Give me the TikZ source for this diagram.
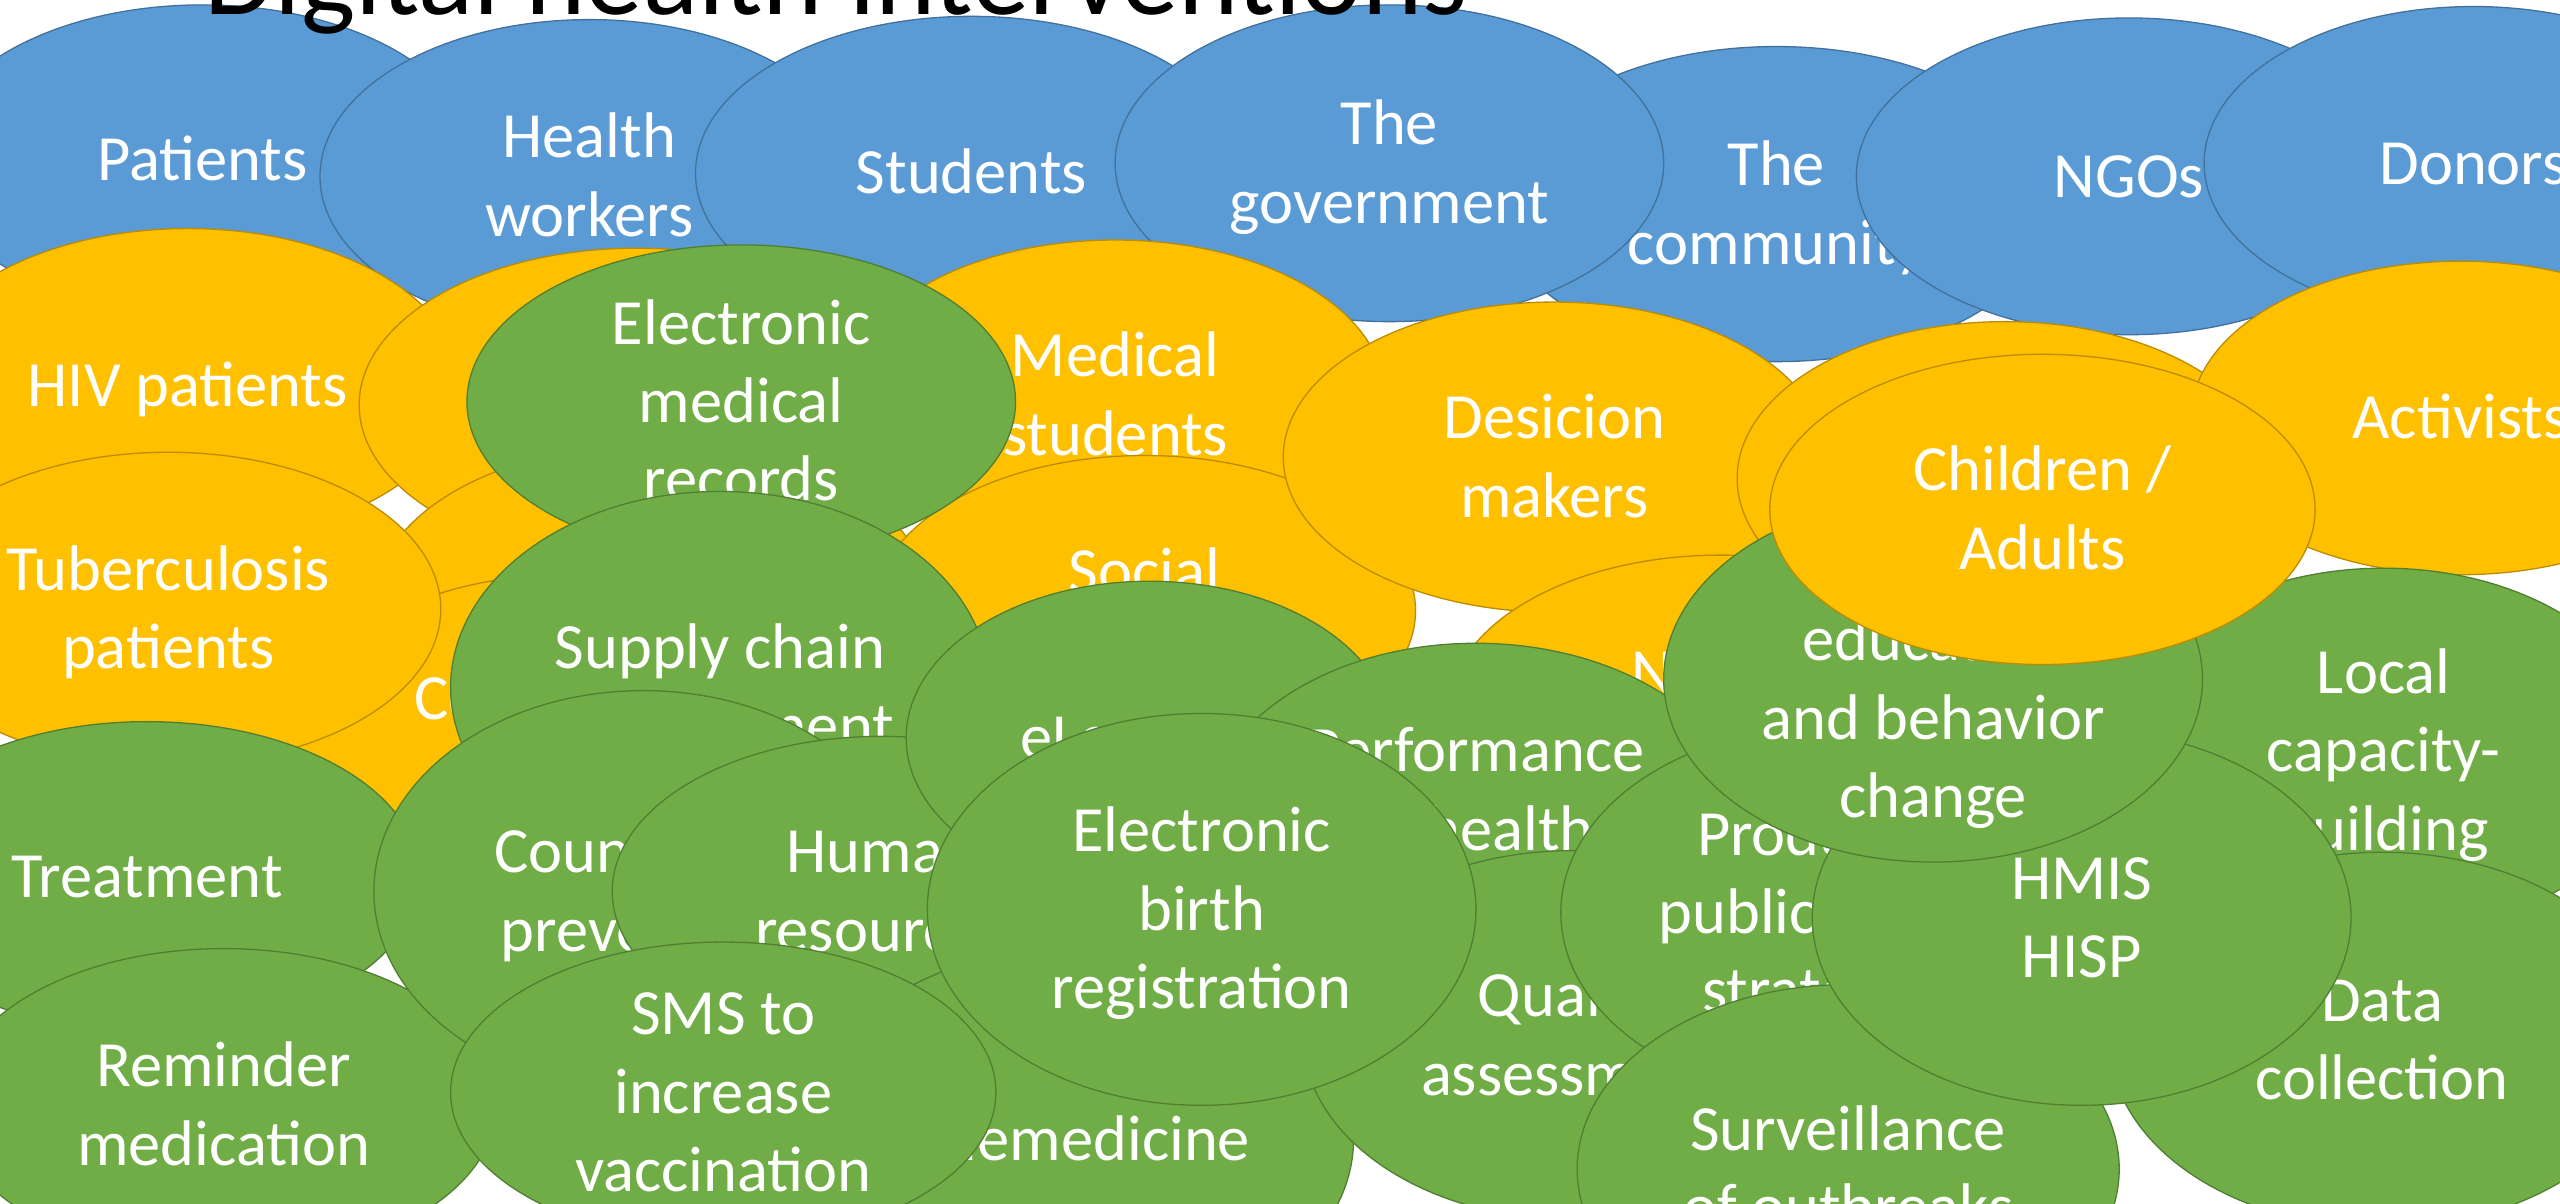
\documentclass[tikz,border=0pt]{standalone}
\usepackage{fontspec}
\setmainfont{Carlito}
\usetikzlibrary{shapes.geometric}
\definecolor{bfill}{HTML}{5B9BD5}
\definecolor{bline}{HTML}{41719C}
\definecolor{ofill}{HTML}{FFC000}
\definecolor{oline}{HTML}{BC8C00}
\definecolor{gfill}{HTML}{70AD47}
\definecolor{gline}{HTML}{507E32}
\tikzset{
 bub/.style={ellipse, inner sep=0pt, line width=0.8pt},
 bluebub/.style={bub, fill=bfill, draw=bline},
 orangebub/.style={bub, fill=ofill, draw=oline},
 greenbub/.style={bub, fill=gfill, draw=gline},
 lbl/.style={text=white, align=center, inner sep=0pt,
   font=\fontsize{39.5}{48}\selectfont},
 titletext/.style={anchor=base, inner sep=0pt, text=black},
}
\newcommand\Lstrut{\rule[-10pt]{0pt}{45.4pt}}
\newcommand\Bub[7]{%
 \node[#1, minimum width=#5pt, minimum height=#6pt] (#2) at (#3,#4) {};
 \node[lbl] (#2-t) at (#2.center) {\Lstrut#7\Lstrut};}
\newcommand\Blank[6]{%
 \node[#1, minimum width=#5pt, minimum height=#6pt] (#2) at (#3,#4) {};}
\begin{document}
\begin{tikzpicture}[x=1pt,y=-1pt]
\useasboundingbox (0,0) rectangle (1568,737);
\fill[white] (0,0) rectangle (1568,737);
\clip (0,0) rectangle (1568,737);
% blue row
\Bub{bluebub}{pat}{124}{98}{334}{190}{Patients}
\Bub{bluebub}{hw}{361}{108}{330}{192}{Health\\workers}
\Bub{bluebub}{stu}{595}{106}{338}{192}{Students}
\Bub{bluebub}{com}{1088}{125}{340}{193}{The\\community}
\Bub{bluebub}{gov}{851}{100}{336}{194}{The\\government}
\Bub{bluebub}{ngo}{1304}{108}{334}{194}{NGOs}
\Bub{bluebub}{don}{1515}{100}{330}{192}{Donors}
% orange row
\Bub{orangebub}{hiv}{115}{236}{334}{192}{HIV patients}
\Blank{orangebub}{o2}{390}{248}{340}{192}
\Bub{orangebub}{med}{683}{242}{330}{190}{Medical\\students}
\Blank{orangebub}{o4}{400}{368}{340}{192}
\Bub{orangebub}{o3}{347}{452}{334}{200}{Community\\members}
\Bub{orangebub}{tb}{103}{373}{334}{192}{Tuberculosis\\patients}
\Bub{orangebub}{soc}{701}{374}{332}{190}{Social\\workers}
\Bub{orangebub}{dec}{952}{280}{332}{190}{Desicion\\makers}
\Bub{orangebub}{nur}{1054}{436}{334}{192}{Nurses\\and midwives}
\Blank{orangebub}{o5}{1228}{293}{328}{192}
\Bub{orangebub}{act}{1507}{256}{330}{192}{Activists}
% green
\Bub{greenbub}{trt}{90}{537}{334}{190}{Treatment}
\Bub{greenbub}{rem}{137}{677}{334}{192}{Reminder\\medication}
\Bub{greenbub}{emr}{454}{246}{336}{192}{Electronic\\medical\\records}
\Bub{greenbub}{sup}{441}{421}{330}{240}{Supply chain\\management}
\Bub{greenbub}{cnt}{394}{546}{330}{246}{Counterfeit\\prevention}
\Bub{greenbub}{hum}{540}{546}{330}{190}{Human\\resources}
\Bub{greenbub}{elr}{704}{452}{298}{192}{eLearning}
\Bub{greenbub}{tel}{660}{698}{338}{236}{Telemedicine}
\Bub{greenbub}{sms}{443}{669}{334}{184}{SMS to\\increase\\vaccination}
\Bub{greenbub}{per}{904}{508}{334}{228}{Performance\\of health\\workers}
\Bub{greenbub}{qua}{963}{634}{330}{226}{Quality\\assessment}
\Bub{greenbub}{ebr}{736}{557}{336}{240}{Electronic\\birth\\registration}
\Bub{greenbub}{pro}{1120}{559}{328}{228}{Producing\\public health\\strategies}
\Bub{greenbub}{loc}{1460}{460}{330}{224}{Local\\capacity-\\building}
\Bub{greenbub}{dat}{1459}{637}{334}{230}{Data\\collection}
\Bub{greenbub}{sur}{1132}{716}{332}{226}{Surveillance\\of outbreaks}
\Bub{greenbub}{hmi}{1275}{562}{330}{230}{HMIS\\HISP}
\Bub{greenbub}{edu}{1184}{416}{330}{224}{Health\\education\\and behavior\\change}
\Bub{orangebub}{chi}{1251}{312}{334}{190}{Children /\\Adults}
% title
\node[titletext] (title) at (512,9) {\resizebox{774pt}{!}{\fontsize{70}{80}\selectfont Digital health interventions}};
\end{tikzpicture}
\end{document}
